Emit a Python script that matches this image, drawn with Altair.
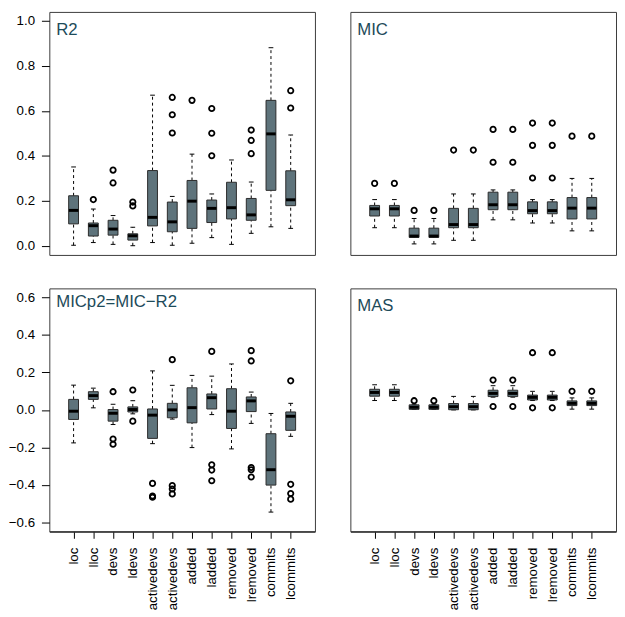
import json
import altair as alt
import pandas as pd

categories = ["loc", "lloc", "devs", "ldevs", "activedevs", "activedevs",
              "added", "ladded", "removed", "lremoved", "commits", "lcommits"]

# ---- R2 ----
r2_lo  = [0.003, 0.015, 0.007, 0.001, 0.015, 0.003, 0.012, 0.037, 0.007, 0.056, 0.085, 0.078]
r2_q1  = [0.098, 0.044, 0.048, 0.026, 0.089, 0.063, 0.078, 0.104, 0.120, 0.114, 0.247, 0.179]
r2_med = [0.158, 0.090, 0.075, 0.045, 0.127, 0.107, 0.199, 0.167, 0.170, 0.138, 0.498, 0.205]
r2_q3  = [0.223, 0.102, 0.114, 0.054, 0.335, 0.195, 0.291, 0.204, 0.283, 0.211, 0.647, 0.334]
r2_hi  = [0.351, 0.164, 0.135, 0.083, 0.670, 0.220, 0.408, 0.231, 0.382, 0.284, 0.881, 0.493]
r2_out_i = [2, 3, 3, 4, 4, 6, 6, 6, 7, 8, 8, 8, 10, 10, 10, 12, 12]
r2_out_v = [0.206, 0.337, 0.280, 0.195, 0.178, 0.660, 0.583, 0.502, 0.647,
            0.611, 0.501, 0.401, 0.515, 0.469, 0.410, 0.690, 0.613]

# ---- MIC ----
mic_lo  = [0.081, 0.081, 0.009, 0.009, 0.025, 0.025, 0.116, 0.116, 0.102, 0.102, 0.067, 0.067]
mic_q1  = [0.133, 0.133, 0.038, 0.038, 0.081, 0.081, 0.161, 0.161, 0.143, 0.143, 0.120, 0.120]
mic_med = [0.165, 0.165, 0.044, 0.044, 0.095, 0.095, 0.183, 0.183, 0.157, 0.157, 0.168, 0.168]
mic_q3  = [0.180, 0.180, 0.079, 0.079, 0.167, 0.167, 0.239, 0.239, 0.196, 0.196, 0.215, 0.215]
mic_hi  = [0.206, 0.206, 0.122, 0.122, 0.231, 0.231, 0.249, 0.249, 0.206, 0.206, 0.300, 0.300]
mic_out_i = [1, 2, 3, 4, 5, 6, 7, 7, 8, 8, 9, 9, 9, 10, 10, 10, 11, 12]
mic_out_v = [0.278, 0.278, 0.158, 0.158, 0.426, 0.426, 0.518, 0.372, 0.518, 0.372,
             0.546, 0.447, 0.302, 0.546, 0.447, 0.302, 0.488, 0.488]

# ---- MICp2 = MIC - R2 ----
p2_lo  = [-0.176, 0.011, -0.078, -0.021, -0.180, -0.049, -0.201, -0.025, -0.208, -0.072, -0.545, -0.141]
p2_q1  = [-0.051, 0.056, -0.060, -0.011, -0.152, -0.042, -0.069, 0.005, -0.099, -0.009, -0.401, -0.109]
p2_med = [-0.007, 0.076, -0.018, 0.002, -0.028, 0.000, 0.012, 0.065, -0.007, 0.048, -0.319, -0.034]
p2_q3  = [0.056, 0.097, 0.002, 0.016, 0.005, 0.035, 0.118, 0.085, 0.113, 0.069, -0.127, -0.011]
p2_hi  = [0.132, 0.116, 0.030, 0.049, 0.208, 0.131, 0.184, 0.180, 0.245, 0.095, -0.019, 0.035]
p2_out_i = [3, 3, 3, 4, 4, 5, 5, 5, 6, 6, 6, 6, 8, 8, 8, 8, 10, 10, 10, 10, 10, 12, 12, 12, 12]
p2_out_v = [0.097, -0.155, -0.183, 0.106, -0.060, -0.392, -0.459, -0.466,
            0.268, -0.404, -0.422, -0.448, 0.312, -0.293, -0.321, -0.378,
            0.316, 0.261, -0.307, -0.319, -0.358, 0.155, -0.397, -0.446, -0.476]

# ---- MAS ----
mas_lo  = [0.050, 0.050, 0.003, 0.003, 0.000, 0.000, 0.068, 0.068, 0.050, 0.050, 0.004, 0.004]
mas_q1  = [0.073, 0.073, 0.003, 0.003, 0.001, 0.001, 0.071, 0.071, 0.053, 0.053, 0.023, 0.023]
mas_med = [0.093, 0.093, 0.014, 0.014, 0.017, 0.017, 0.088, 0.088, 0.067, 0.067, 0.035, 0.035]
mas_q3  = [0.110, 0.110, 0.027, 0.027, 0.034, 0.034, 0.105, 0.105, 0.079, 0.079, 0.048, 0.048]
mas_hi  = [0.134, 0.134, 0.030, 0.030, 0.072, 0.072, 0.129, 0.129, 0.099, 0.099, 0.064, 0.064]
mas_out_i = [3, 4, 7, 7, 8, 8, 9, 9, 10, 10, 11, 12]
mas_out_v = [0.049, 0.049, 0.159, 0.018, 0.159, 0.018, 0.305, 0.011, 0.305, 0.011, 0.099, 0.099]

top_ticks = [0.0, 0.2, 0.4, 0.6, 0.8, 1.0]
bottom_ticks = [-0.6, -0.4, -0.2, 0.0, 0.2, 0.4, 0.6]

FONT = "Liberation Sans"
BOX_FILL = "#5e737b"
TITLE_COLOR = "#1d4b5a"
W, H = 270, 247

labels_js = json.dumps(categories)


def panel(lo, q1, med, q3, hi, out_i, out_v, title, title_y, ydom, yticks, show_x, show_y):
    df = pd.DataFrame({"i": list(range(1, len(categories) + 1)),
                       "lo": lo, "q1": q1, "med": med, "q3": q3, "hi": hi})
    odf = pd.DataFrame({"i": out_i, "v": out_v})
    xscale = alt.Scale(domain=[0.02, 12.98], nice=False, zero=False)
    yscale = alt.Scale(domain=ydom, nice=False, zero=False)
    if show_x:
        xaxis = alt.Axis(values=list(range(1, 13)), labelExpr=f"{labels_js}[datum.value - 1]",
                         labelAngle=270, labelAlign="right", labelBaseline="middle",
                         tickSize=7, labelPadding=9, grid=False, title=None,
                         domain=True, domainColor="#333333", domainWidth=1.5, tickColor="black",
                         labelColor="black", labelFontSize=13.5, labelFont=FONT)
    else:
        xaxis = None
    if show_y:
        yaxis = alt.Axis(values=yticks, format=".1f", grid=False, title=None,
                         domain=False, tickSize=8, labelPadding=7, tickColor="black",
                         labelColor="black", labelFontSize=13.5, labelFont=FONT)
    else:
        yaxis = None
    base = alt.Chart(df)
    xe = alt.X("i:Q", scale=xscale, axis=xaxis)
    whisk_hi = base.mark_rule(color="black", strokeDash=[3, 3], strokeWidth=1).encode(
        x=xe, y=alt.Y("q3:Q", scale=yscale, axis=yaxis), y2="hi:Q")
    whisk_lo = base.mark_rule(color="black", strokeDash=[3, 3], strokeWidth=1).encode(
        x=xe, y=alt.Y("lo:Q", scale=yscale, axis=yaxis), y2="q1:Q")
    caps = base.transform_calculate(
        cl="datum.i - 0.12", cr="datum.i + 0.12"
    ).transform_fold(["lo", "hi"], as_=["k", "cv"]).mark_rule(color="black", strokeWidth=1).encode(
        x=alt.X("cl:Q", scale=xscale, axis=xaxis), x2="cr:Q",
        y=alt.Y("cv:Q", scale=yscale, axis=yaxis))
    box = base.mark_bar(size=10, fill=BOX_FILL, stroke="#2a2a2a", strokeWidth=1).encode(
        x=xe, y=alt.Y("q1:Q", scale=yscale, axis=yaxis), y2="q3:Q")
    median = base.transform_calculate(
        ml="datum.i - 0.24", mr="datum.i + 0.24"
    ).mark_rule(color="black", strokeWidth=3).encode(
        x=alt.X("ml:Q", scale=xscale, axis=xaxis), x2="mr:Q",
        y=alt.Y("med:Q", scale=yscale, axis=yaxis))
    outl = alt.Chart(odf).mark_point(shape="circle", filled=False, size=30,
                                     strokeWidth=1.8, color="black", opacity=1).encode(
        x=alt.X("i:Q", scale=xscale, axis=xaxis), y=alt.Y("v:Q", scale=yscale, axis=yaxis))
    ttl = alt.Chart(pd.DataFrame({"t": [title]})).mark_text(
        align="left", baseline="alphabetic", fontSize=17, font=FONT, color=TITLE_COLOR
    ).encode(text="t:N", x=alt.value(7), y=alt.value(title_y))
    return alt.layer(whisk_hi, whisk_lo, caps, box, median, outl, ttl).properties(width=W, height=H)


top_dom = [-0.04, 1.04]
bot_dom = [-0.648, 0.648]

tl = panel(r2_lo, r2_q1, r2_med, r2_q3, r2_hi, r2_out_i, r2_out_v, "R2", 23, top_dom, top_ticks, False, True)
tr = panel(mic_lo, mic_q1, mic_med, mic_q3, mic_hi, mic_out_i, mic_out_v, "MIC", 23, top_dom, top_ticks, False, False)
bl = panel(p2_lo, p2_q1, p2_med, p2_q3, p2_hi, p2_out_i, p2_out_v, "MICp2=MIC\u2212R2", 19, bot_dom, bottom_ticks, True, True)
br = panel(mas_lo, mas_q1, mas_med, mas_q3, mas_hi, mas_out_i, mas_out_v, "MAS", 22.5, bot_dom, bottom_ticks, True, False)

chart = alt.concat(tl, tr, bl, br, columns=2, spacing={"row": 32, "column": 34}).properties(
    padding={"left": -1, "top": -2, "right": 0, "bottom": 0}
).configure(background="white").configure_view(stroke="#3a3a3a", strokeWidth=1)

chart.save("out.html", embed_options={"renderer": "svg", "actions": False})
